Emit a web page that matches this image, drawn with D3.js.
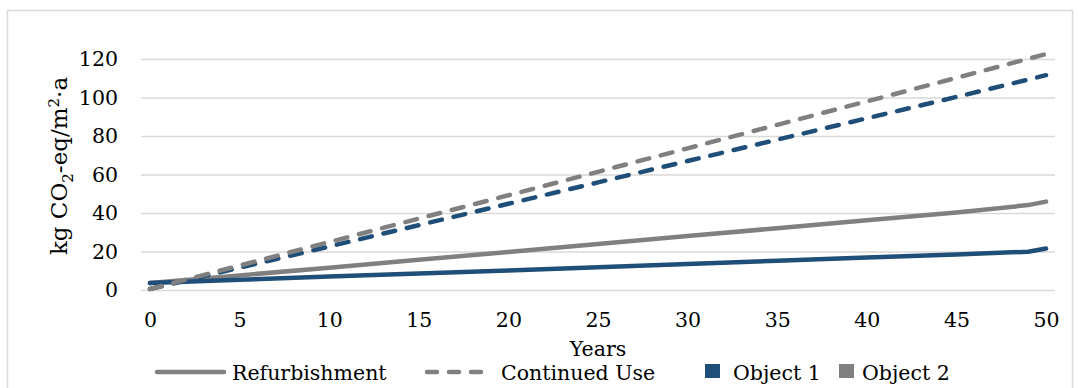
<!DOCTYPE html>
<html>
<head>
<meta charset="utf-8">
<script src="https://cdn.jsdelivr.net/npm/d3@7/dist/d3.min.js"></script>
<style>
  html, body { margin: 0; padding: 0; background: #fff; }
  svg { display: block; }
  text { font-family: "DejaVu Serif", "Liberation Serif", serif; fill: #000; }
</style>
</head>
<body>
<svg id="chart" width="1078" height="388"></svg>
<script>
// Years at which the series values are recorded
const years = [0, 5, 10, 15, 20, 25, 30, 35, 40, 45, 49, 50];

// Cumulative emissions, kg CO2-eq/m²·a
const obj1Refurbishment = [3.6, 5.3, 7.0, 8.6, 10.1, 11.8, 13.5, 15.2, 16.9, 18.5, 19.9, 21.6];
const obj2Refurbishment = [3.6, 7.6, 11.6, 15.7, 19.8, 23.9, 28.0, 32.1, 36.2, 40.3, 44.1, 45.9];
const obj1ContinuedUse  = [0.5, 11.6, 22.6, 33.7, 44.8, 55.9, 67.0, 78.1, 89.2, 100.3, 109.3, 111.6];
const obj2ContinuedUse  = [0.5, 12.7, 24.9, 37.1, 49.2, 61.4, 73.6, 85.8, 98.0, 110.2, 120.1, 122.6];

const xTicks = [0, 5, 10, 15, 20, 25, 30, 35, 40, 45, 50];
const yTicks = [0, 20, 40, 60, 80, 100, 120];

const colors = { obj1: "#1F4E79", obj2: "#808080" };
const fontSize = 20.5;

const seriesList = [
  { values: obj2Refurbishment, color: colors.obj2, dashed: false },
  { values: obj1Refurbishment, color: colors.obj1, dashed: false },
  { values: obj1ContinuedUse,  color: colors.obj1, dashed: true },
  { values: obj2ContinuedUse,  color: colors.obj2, dashed: true }
];

const svg = d3.select("#chart");

// outer chart frame
svg.append("rect")
  .attr("x", 7.5).attr("y", 10.5)
  .attr("width", 1065).attr("height", 390)
  .attr("fill", "none").attr("stroke", "#D9D9D9").attr("stroke-width", 1.5);

const plot = { left: 141, right: 1055, top: 59, bottom: 290 };

// 51 yearly categories across the plot; each year sits in the middle of its slot
const slot = (plot.right - plot.left) / 51;
const x = d3.scaleLinear().domain([0, 50])
  .range([plot.left + slot / 2, plot.right - slot / 2]);
const y = d3.scaleLinear().domain([0, 120]).range([plot.bottom, plot.top]);

// horizontal gridlines
const yAxis = d3.axisLeft(y).tickValues(yTicks).tickSize(-(plot.right - plot.left)).tickPadding(23);
const gy = svg.append("g").attr("transform", `translate(${plot.left},0)`).call(yAxis);
gy.select(".domain").remove();
gy.selectAll(".tick line").attr("stroke", "#D9D9D9").attr("stroke-width", 1.5);
gy.selectAll(".tick text").attr("font-size", fontSize).attr("font-family", "DejaVu Serif").attr("fill", "#000");

// x axis labels
const xAxis = d3.axisBottom(x).tickValues(xTicks).tickSize(0).tickPadding(22);
const gx = svg.append("g").attr("transform", `translate(0,${plot.bottom})`).call(xAxis);
gx.select(".domain").remove();
gx.selectAll(".tick text").attr("font-size", fontSize).attr("font-family", "DejaVu Serif").attr("fill", "#000");

// series lines
const line = d3.line()
  .x((d, i) => x(years[i]))
  .y(d => y(d));

seriesList.forEach(s => {
  svg.append("path")
    .datum(s.values)
    .attr("d", line)
    .attr("fill", "none")
    .attr("stroke", s.color)
    .attr("stroke-width", 4.5)
    .attr("stroke-linecap", "round")
    .attr("stroke-linejoin", "round")
    .attr("stroke-dasharray", s.dashed ? "12,12" : null);
});

// axis titles
svg.append("text")
  .attr("x", (plot.left + plot.right) / 2 + 0).attr("y", 356)
  .attr("text-anchor", "middle").attr("font-size", fontSize)
  .text("Years");

const yTitle = svg.append("text")
  .attr("transform", "translate(67,166) rotate(-90)")
  .attr("text-anchor", "middle").attr("font-size", 23);
yTitle.append("tspan").text("kg CO");
yTitle.append("tspan").attr("font-size", 15).attr("dy", 6).text("2");
yTitle.append("tspan").attr("dy", -6).text("-eq/m");
yTitle.append("tspan").attr("font-size", 15).attr("dy", -8).text("2");
yTitle.append("tspan").attr("dy", 8).text("·a");

// legend
const legendY = 372;
const lg = svg.append("g");
lg.append("line").attr("x1", 157).attr("x2", 224).attr("y1", legendY).attr("y2", legendY)
  .attr("stroke", colors.obj2).attr("stroke-width", 4.5).attr("stroke-linecap", "round");
lg.append("text").attr("x", 232).attr("y", 380).attr("font-size", fontSize).text("Refurbishment");
lg.append("line").attr("x1", 427).attr("x2", 490).attr("y1", legendY).attr("y2", legendY)
  .attr("stroke", colors.obj2).attr("stroke-width", 4.5).attr("stroke-linecap", "round")
  .attr("stroke-dasharray", "10,12");
lg.append("text").attr("x", 501).attr("y", 380).attr("font-size", fontSize).text("Continued Use");
lg.append("rect").attr("x", 705).attr("y", 364).attr("width", 15).attr("height", 14).attr("fill", colors.obj1);
lg.append("text").attr("x", 733).attr("y", 380).attr("font-size", fontSize).text("Object 1");
lg.append("rect").attr("x", 839).attr("y", 364).attr("width", 15).attr("height", 14).attr("fill", colors.obj2);
lg.append("text").attr("x", 862).attr("y", 380).attr("font-size", fontSize).text("Object 2");
</script>
</body>
</html>
